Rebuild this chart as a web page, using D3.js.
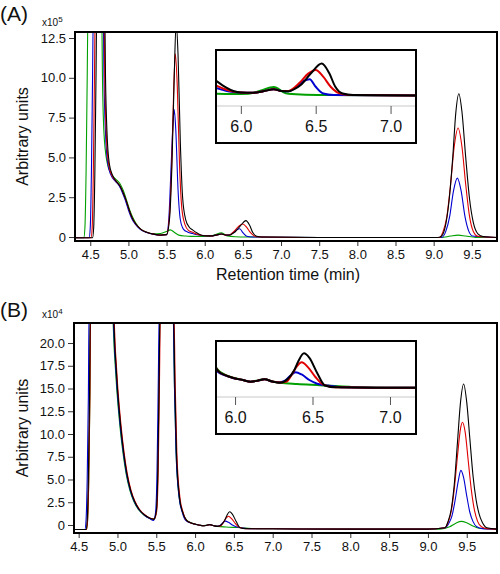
<!DOCTYPE html>
<html><head><meta charset="utf-8">
<script src="https://cdn.jsdelivr.net/npm/d3@7"></script>
<style>body{margin:0;background:#fff} text{font-family:Arial,"Liberation Sans",sans-serif;fill:#111}</style>
</head><body><svg id="c" width="500" height="574"></svg>
<script>
// ---------- data (time in min, value in panel units) ----------
const aBlack=[[4.30,-0.05],[4.53,-0.05],[4.545,0.6],[4.56,4],[4.575,10],[4.585,14],[4.69,14],[4.70,10],[4.72,6.5],[4.75,4.6],[4.79,3.9],[4.84,3.5],[4.89,3.2],[4.93,2.8],[4.97,2.3],[5.01,1.7],[5.05,1.2],[5.10,0.8],[5.16,0.5],[5.24,0.3],[5.33,0.18],[5.42,0.12],[5.50,0.15],[5.54,1.2],[5.57,4.5],[5.60,10],[5.625,13.4],[5.65,11.5],[5.68,6],[5.71,2.5],[5.75,1.1],[5.80,0.6],[5.84,0.45],[5.90,0.25],[5.95,0.13],[6.00,0.08],[6.08,0.07],[6.15,0.12],[6.22,0.19],[6.27,0.13],[6.32,0.12],[6.36,0.2],[6.40,0.33],[6.47,0.72],[6.54,1.03],[6.59,0.72],[6.63,0.28],[6.68,0.05],[6.75,0.0],[7.5,-0.03],[8.5,-0.03],[9.05,-0.03],[9.10,0.05],[9.15,0.6],[9.20,2.2],[9.25,5.0],[9.29,7.8],[9.33,9.0],[9.37,7.9],[9.42,5.0],[9.47,2.4],[9.52,0.9],[9.58,0.2],[9.65,0.03],[9.83,-0.03]];
const aRed=[[4.30,-0.05],[4.51,-0.05],[4.525,0.6],[4.54,4],[4.555,10],[4.565,14],[4.68,14],[4.69,10],[4.71,6.5],[4.74,4.6],[4.78,3.9],[4.84,3.5],[4.89,3.2],[4.93,2.8],[4.97,2.3],[5.01,1.7],[5.05,1.2],[5.10,0.8],[5.16,0.5],[5.24,0.3],[5.33,0.18],[5.42,0.12],[5.50,0.15],[5.54,1.5],[5.57,5],[5.595,9.5],[5.615,11.5],[5.64,9.5],[5.67,4.5],[5.70,1.8],[5.74,0.8],[5.79,0.4],[5.84,0.3],[5.90,0.18],[5.95,0.11],[6.00,0.08],[6.08,0.07],[6.15,0.12],[6.22,0.19],[6.27,0.13],[6.32,0.13],[6.36,0.25],[6.40,0.44],[6.45,0.7],[6.50,0.82],[6.55,0.6],[6.60,0.27],[6.65,0.07],[6.72,0.0],[7.5,-0.03],[8.5,-0.03],[9.08,-0.03],[9.12,0.3],[9.17,1.2],[9.22,3.2],[9.27,5.7],[9.32,6.85],[9.37,5.7],[9.42,3.3],[9.47,1.3],[9.52,0.35],[9.58,0.05],[9.83,-0.03]];
const aBlue=[[4.30,-0.05],[4.485,-0.05],[4.50,0.6],[4.515,4],[4.53,10],[4.54,14],[4.67,14],[4.68,10],[4.70,6.5],[4.73,4.6],[4.77,3.9],[4.83,3.5],[4.88,3.2],[4.92,2.8],[4.96,2.3],[5.00,1.7],[5.04,1.2],[5.09,0.8],[5.15,0.5],[5.23,0.3],[5.32,0.18],[5.42,0.12],[5.50,0.15],[5.53,1.2],[5.56,4.5],[5.585,7.2],[5.60,8.0],[5.62,6.8],[5.65,3],[5.68,1.1],[5.72,0.5],[5.78,0.3],[5.84,0.22],[5.90,0.14],[5.95,0.1],[6.00,0.08],[6.08,0.07],[6.15,0.12],[6.22,0.19],[6.27,0.13],[6.31,0.12],[6.36,0.22],[6.42,0.46],[6.46,0.52],[6.50,0.27],[6.55,0.05],[6.62,0.0],[7.5,-0.03],[8.5,-0.03],[9.10,-0.03],[9.16,0.37],[9.21,1.3],[9.26,2.9],[9.31,3.7],[9.36,2.9],[9.41,1.3],[9.46,0.37],[9.51,0.06],[9.83,-0.03]];
const aGreen=[[4.30,-0.05],[4.415,-0.05],[4.43,0.6],[4.445,4],[4.46,10],[4.47,14],[4.65,14],[4.66,10],[4.68,6.5],[4.72,4.7],[4.77,4.0],[4.83,3.65],[4.89,3.35],[4.93,2.95],[4.97,2.4],[5.01,1.8],[5.05,1.3],[5.10,0.85],[5.16,0.5],[5.24,0.3],[5.33,0.2],[5.42,0.22],[5.50,0.35],[5.55,0.45],[5.60,0.3],[5.66,0.12],[5.75,0.06],[5.84,0.04],[5.95,0.03],[6.05,0.04],[6.13,0.14],[6.22,0.26],[6.30,0.06],[6.40,0.02],[6.6,0.0],[7.5,-0.03],[9.10,-0.03],[9.22,0.06],[9.32,0.12],[9.42,0.06],[9.55,-0.02],[9.83,-0.03]];

const bBlack=[[4.44,-0.5],[4.595,-0.5],[4.61,0.5],[4.625,5],[4.64,14],[4.65,24],[4.94,24],[4.97,19],[5.00,15],[5.04,11],[5.08,8],[5.12,5.7],[5.17,3.8],[5.22,2.6],[5.28,1.7],[5.35,1.1],[5.42,0.75],[5.47,0.65],[5.50,1.5],[5.52,6],[5.535,15],[5.55,24],[5.72,24],[5.74,15],[5.76,8],[5.80,3.0],[5.84,1.4],[5.89,0.5],[5.94,0.25],[5.99,0.11],[6.05,0.0],[6.10,-0.09],[6.15,-0.03],[6.19,0.04],[6.24,-0.08],[6.29,-0.15],[6.34,0.05],[6.38,0.5],[6.41,1.05],[6.445,1.45],[6.48,1.2],[6.53,0.38],[6.58,-0.3],[6.65,-0.4],[7.0,-0.42],[8.0,-0.45],[9.0,-0.45],[9.22,-0.3],[9.26,0.4],[9.30,1.7],[9.34,4.5],[9.38,9.0],[9.42,13.5],[9.46,15.5],[9.50,13.5],[9.54,9.5],[9.58,5.5],[9.62,2.8],[9.66,1.2],[9.70,0.3],[9.76,-0.3],[9.89,-0.45]];
const bRed=[[4.44,-0.5],[4.60,-0.5],[4.615,0.5],[4.63,5],[4.645,14],[4.655,24],[4.945,24],[4.975,19],[5.005,15],[5.045,11],[5.085,8],[5.125,5.7],[5.175,3.8],[5.225,2.6],[5.285,1.7],[5.355,1.1],[5.425,0.75],[5.475,0.68],[5.505,1.5],[5.525,6],[5.54,15],[5.555,24],[5.725,24],[5.745,15],[5.765,8],[5.805,3.0],[5.845,1.4],[5.89,0.5],[5.94,0.25],[5.99,0.11],[6.05,0.0],[6.10,-0.09],[6.15,-0.03],[6.19,0.04],[6.24,-0.08],[6.29,-0.14],[6.33,-0.1],[6.37,0.35],[6.40,0.75],[6.43,0.96],[6.47,0.7],[6.52,0.15],[6.57,-0.25],[6.65,-0.4],[7.0,-0.42],[8.0,-0.45],[9.0,-0.45],[9.22,-0.3],[9.26,0.3],[9.30,1.5],[9.34,4.0],[9.38,7.5],[9.42,10.6],[9.445,11.3],[9.48,10.2],[9.52,7.0],[9.56,3.8],[9.60,1.6],[9.64,0.4],[9.69,-0.2],[9.76,-0.4],[9.89,-0.45]];
const bBlue=[[4.44,-0.5],[4.58,-0.5],[4.595,0.5],[4.61,5],[4.625,14],[4.635,24],[4.935,24],[4.965,19],[4.995,15],[5.035,11],[5.075,8],[5.115,5.7],[5.165,3.8],[5.215,2.6],[5.275,1.7],[5.345,1.1],[5.415,0.7],[5.465,0.5],[5.49,1.3],[5.51,6],[5.525,15],[5.54,24],[5.715,24],[5.735,15],[5.755,8],[5.795,3.0],[5.835,1.4],[5.88,0.5],[5.94,0.24],[5.99,0.1],[6.05,0.0],[6.10,-0.09],[6.15,-0.03],[6.19,0.04],[6.24,-0.08],[6.28,-0.13],[6.32,-0.05],[6.36,0.25],[6.39,0.42],[6.43,0.3],[6.48,0.0],[6.53,-0.2],[6.6,-0.3],[6.7,-0.4],[7.0,-0.42],[8.0,-0.45],[9.0,-0.45],[9.22,-0.3],[9.27,0.2],[9.31,1.0],[9.35,2.7],[9.39,4.8],[9.425,6.0],[9.46,5.2],[9.50,3.2],[9.54,1.4],[9.58,0.4],[9.63,-0.2],[9.70,-0.4],[9.89,-0.45]];
const bGreen=[[4.44,-0.5],[4.60,-0.5],[4.615,0.5],[4.63,5],[4.645,14],[4.655,24],[4.93,24],[4.96,19],[4.99,15],[5.03,11],[5.07,8],[5.11,5.7],[5.16,3.8],[5.21,2.6],[5.27,1.7],[5.34,1.1],[5.41,0.75],[5.47,0.62],[5.50,1.5],[5.52,6],[5.535,15],[5.55,24],[5.715,24],[5.735,15],[5.755,8],[5.795,3.0],[5.835,1.5],[5.885,0.6],[5.94,0.27],[5.99,0.12],[6.05,0.0],[6.10,-0.09],[6.15,-0.02],[6.19,0.05],[6.24,-0.08],[6.29,-0.15],[6.40,-0.22],[6.55,-0.28],[6.8,-0.4],[7.0,-0.42],[8.0,-0.45],[9.0,-0.45],[9.15,-0.45],[9.28,-0.2],[9.36,0.2],[9.43,0.4],[9.50,0.25],[9.58,-0.1],[9.66,-0.35],[9.89,-0.45]];

const seriesColors=["#00a000","#0000d0","#e00000","#000000"]; // green, blue, red, black (draw order)
const xMajorTicks=[4.5,5.0,5.5,6.0,6.5,7.0,7.5,8.0,8.5,9.0,9.5];
const yTicksA=[0,2.5,5.0,7.5,10.0,12.5];
const yTicksB=[0,2.5,5.0,7.5,10.0,12.5,15.0,17.5,20.0];
const insetTicks=[6.0,6.5,7.0];

// ---------- drawing ----------
const svg=d3.select("#c");
const defs=svg.append("defs");
const fmt=d=>d===0?"0":d.toFixed(1);

function panel(o){
  const x=d3.scaleLinear().domain(o.xd).range([o.l,o.r]);
  const y=d3.scaleLinear().domain(o.yd).range([o.b,o.t]);
  defs.append("clipPath").attr("id",o.id+"c").append("rect")
    .attr("x",o.l).attr("y",o.t).attr("width",o.r-o.l).attr("height",o.b-o.t);
  const line=d3.line().x(d=>x(d[0])).y(d=>y(d[1])).curve(d3.curveMonotoneX);
  const lg=svg.append("g").attr("clip-path",`url(#${o.id}c)`);
  o.series.forEach((s,i)=>lg.append("path").attr("d",line(s)).attr("fill","none")
    .attr("stroke",seriesColors[i]).attr("stroke-width",1.1));
  // x axis
  const xminor=d3.range(Math.ceil(o.xd[0]*10),Math.floor(o.xd[1]*10)+1).map(v=>v/10);
  const gx=svg.append("g").attr("transform",`translate(0,${o.b})`);
  gx.call(d3.axisBottom(x).tickValues(xminor).tickFormat("").tickSize(3));
  gx.call(d3.axisBottom(x).tickValues(xMajorTicks).tickFormat(d3.format(".1f")).tickSize(5).tickPadding(4));
  gx.selectAll(".domain").remove();
  gx.selectAll("text").style("font-size","13px").attr("fill","#111");
  gx.selectAll("line").attr("stroke","#333");
  // y axis
  const yminor=d3.range(Math.ceil(o.yd[0]*2),Math.floor(o.yd[1]*2)+1).map(v=>v/2);
  const gy=svg.append("g").attr("transform",`translate(${o.l},0)`);
  gy.call(d3.axisLeft(y).tickValues(yminor).tickFormat("").tickSize(3));
  gy.call(d3.axisLeft(y).tickValues(o.yTicks).tickFormat(fmt).tickSize(6).tickPadding(3));
  gy.selectAll(".domain").remove();
  gy.selectAll("text").style("font-size","13px").attr("fill","#111");
  gy.selectAll("line").attr("stroke","#333");
  // frame
  svg.append("rect").attr("x",o.l).attr("y",o.t).attr("width",o.r-o.l).attr("height",o.b-o.t)
    .attr("fill","none").attr("stroke","#000").attr("stroke-width",2);
  // labels
  svg.append("text").attr("x",0).attr("y",o.labelY).style("font-size","21px").text(o.label);
  const ex=svg.append("text").attr("x",42).attr("y",o.expY).style("font-size","10px");
  ex.append("tspan").text("x10");
  ex.append("tspan").attr("dy",-4).style("font-size","8px").text(o.exp);
  svg.append("text").attr("transform",`translate(28,${(o.t+o.b)/2}) rotate(-90)`)
    .attr("text-anchor","middle").style("font-size","16px").text("Arbitrary units");
  // inset
  const I=o.inset;
  const ix=d3.scaleLinear().domain(I.xd).range([I.l,I.r]);
  const iy=d3.scaleLinear().domain(I.yd).range([I.y0,I.y1]);
  svg.append("rect").attr("x",I.l).attr("y",I.t).attr("width",I.r-I.l).attr("height",I.b-I.t).attr("fill","#fff");
  defs.append("clipPath").attr("id",o.id+"ic").append("rect")
    .attr("x",I.l).attr("y",I.t).attr("width",I.r-I.l).attr("height",I.ax-I.t);
  const il=d3.line().x(d=>ix(d[0])).y(d=>iy(d[1])).curve(d3.curveMonotoneX);
  const ig=svg.append("g").attr("clip-path",`url(#${o.id}ic)`);
  o.series.forEach((s,i)=>ig.append("path").attr("d",il(s)).attr("fill","none")
    .attr("stroke",seriesColors[i]).attr("stroke-width",2).attr("stroke-linejoin","round"));
  svg.append("line").attr("x1",I.l).attr("x2",I.r).attr("y1",I.ax).attr("y2",I.ax).attr("stroke","#c8c8c8").attr("stroke-width",1);
  const iminor=d3.range(Math.ceil(I.xd[0]*10),Math.floor(I.xd[1]*10)+1).map(v=>v/10);
  const gi=svg.append("g").attr("transform",`translate(0,${I.ax})`);
  gi.call(d3.axisBottom(ix).tickValues(iminor).tickFormat("").tickSize(4));
  gi.call(d3.axisBottom(ix).tickValues(insetTicks).tickFormat(d3.format(".1f")).tickSize(8).tickPadding(7));
  gi.selectAll(".domain").remove();
  gi.selectAll("line").attr("stroke","#555");
  gi.selectAll("text").style("font-size","16px").attr("fill","#111");
  svg.append("rect").attr("x",I.l).attr("y",I.t).attr("width",I.r-I.l).attr("height",I.b-I.t)
    .attr("fill","none").attr("stroke","#000").attr("stroke-width",2);
  return {x,y};
}

panel({id:"A",l:75,r:497,t:32,b:241,xd:[4.30,9.83],yd:[-0.25,12.877],yTicks:yTicksA,
  series:[aGreen,aBlue,aRed,aBlack],label:"(A)",labelY:21,expY:26,exp:"5",
  inset:{l:216,r:416,t:50,b:143,ax:106,xd:[5.834,7.17],yd:[0,1],y0:95,y1:64.5}});
panel({id:"B",l:74,r:497,t:323,b:533,xd:[4.44,9.89],yd:[-0.88,22.2],yTicks:yTicksB,
  series:[bGreen,bBlue,bRed,bBlack],label:"(B)",labelY:317,expY:318,exp:"4",
  inset:{l:216,r:416,t:341,b:434,ax:397,xd:[5.877,7.168],yd:[0,1],y0:380,y1:361.6}});

svg.append("text").attr("x",288).attr("y",280).attr("text-anchor","middle")
  .style("font-size","16px").text("Retention time (min)");
</script></body></html>
